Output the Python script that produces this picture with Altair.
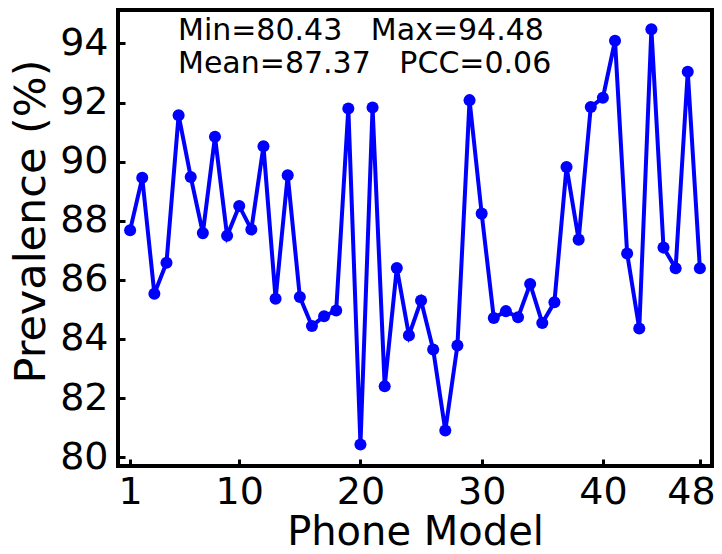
import altair as alt
import pandas as pd

# Data
models = list(range(1, 49))
prevalence = [
    87.68, 89.45, 85.53, 86.58, 91.57, 89.48, 87.58, 90.84, 87.49, 88.50,
    87.70, 90.52, 85.36, 89.54, 85.42, 84.44, 84.77, 84.96, 91.80, 80.43,
    91.83, 82.40, 86.40, 84.12, 85.30, 83.64, 80.90, 83.78, 92.08, 88.24,
    84.71, 84.94, 84.73, 85.86, 84.54, 85.24, 89.82, 87.36, 91.85, 92.16,
    94.09, 86.89, 84.35, 94.48, 87.09, 86.39, 93.04, 86.39,
]
x_ticks = [1, 10, 20, 30, 40, 48]
y_ticks = [80, 82, 84, 86, 88, 90, 92, 94]
stat_text = ["Min=80.43", "Max=94.48", "Mean=87.37", "PCC=0.06"]

SP = "\u00a0" * 3
ann_text = f"{stat_text[0]}{SP}{stat_text[1]}\n{stat_text[2]}{SP}{stat_text[3]}"

df = pd.DataFrame({"model": models, "prev": prevalence})
ann = pd.DataFrame({"txt": [ann_text]})

FONT = "DejaVu Sans"
W, H = 594, 456

x_scale = alt.Scale(domain=[0, 49], nice=False, zero=False)
y_scale = alt.Scale(domain=[79.7, 95.13], nice=False, zero=False)

x_axis = alt.Axis(
    values=x_ticks, title="Phone Model", grid=False, domain=False,
    tickSize=7, tickWidth=3, tickColor="black", offset=-7,
    labelFontSize=38, labelFont=FONT, labelColor="black", labelPadding=7,
    labelFlush=False, labelOverlap=False, labelBaseline="top",
    labelOffset={"condition": {"test": "datum.value == 48", "value": -9}, "value": 0},
    titleFontSize=40, titleFont=FONT, titleColor="black", titleFontWeight="normal",
    titleBaseline="alphabetic", titleY=85,
)
y_axis = alt.Axis(
    values=y_ticks, title="Prevalence (%)", grid=False, domain=False,
    tickSize=7, tickWidth=3, tickColor="black", offset=-7,
    labelFontSize=38, labelFont=FONT, labelColor="black", labelPadding=10,
    labelFlush=False, labelOverlap=False,
    titleFontSize=43, titleFont=FONT, titleColor="black", titleFontWeight="normal",
    titleBaseline="alphabetic", titleAngle=-90, titleAlign="center",
    titleX=-81, titleY=211,
)

base = alt.Chart(df).encode(
    x=alt.X("model:Q", scale=x_scale, axis=x_axis),
    y=alt.Y("prev:Q", scale=y_scale, axis=y_axis),
)
line = base.mark_line(color="#0000ff", strokeWidth=4)
pts = base.mark_point(filled=True, color="#0000ff", size=145, opacity=1)

text = alt.Chart(ann).mark_text(
    font=FONT, fontSize=30, color="black", align="left", baseline="alphabetic",
    lineBreak="\n", lineHeight=33.3,
).encode(
    text="txt:N",
    x=alt.value(60),
    y=alt.value(30),
)

chart = alt.layer(line, pts, text).properties(
    width=W, height=H,
    autosize=alt.AutoSizeParams(type="none"),
    padding={"left": 110, "top": 2, "right": 2, "bottom": 80},
    background="white",
).configure_view(stroke="black", strokeWidth=4)

chart.save("out.html", embed_options={"renderer": "svg", "actions": False})
